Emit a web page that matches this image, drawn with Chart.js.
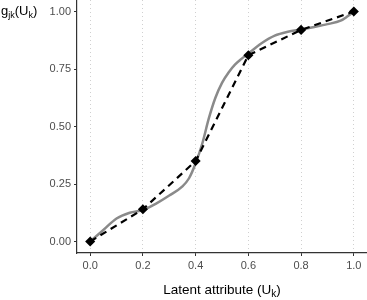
<!DOCTYPE html>
<html>
<head>
<meta charset="utf-8">
<script src="https://cdn.jsdelivr.net/npm/chart.js@4"></script>
<style>
  body { margin: 0; background: #fff; }
  canvas { display: block; }
</style>
</head>
<body>
<canvas id="plot" width="367" height="300"></canvas>
<script>
// anchor points (dashed line with diamonds)
const anchorU = [0.0, 0.2, 0.4, 0.6, 0.8, 1.0];
const anchorG = [0.00, 0.14, 0.35, 0.81, 0.92, 1.00];

// smooth grey curve
const curveU = [0, 0.05, 0.10, 0.15, 0.20, 0.25, 0.30, 0.35, 0.375, 0.40, 0.425, 0.45, 0.475, 0.50, 0.525, 0.55, 0.575, 0.60, 0.625, 0.65, 0.70, 0.75, 0.80, 0.85, 0.90, 0.95, 0.975, 1.0];
const curveG = [0.00, 0.05, 0.10, 0.125, 0.137, 0.165, 0.20, 0.24, 0.275, 0.34, 0.425, 0.535, 0.625, 0.69, 0.735, 0.77, 0.795, 0.818, 0.84, 0.862, 0.895, 0.912, 0.922, 0.933, 0.945, 0.96, 0.978, 1.00];

const xTicks = [0, 0.2, 0.4, 0.6, 0.8, 1.0];
const yTicks = [0, 0.25, 0.5, 0.75, 1.0];

const FONT = '"Liberation Sans", Arial, sans-serif';

// draws text where some parts are subscripts
function drawRich(ctx, parts, x, y, size, align) {
    const subSize = Math.round(size * 0.72);
    let total = 0;
    parts.forEach(([t, sub]) => {
        ctx.font = (sub ? subSize : size) + 'px ' + FONT;
        total += ctx.measureText(t).width;
    });
    let cx = align === 'center' ? x - total / 2 : x;
    ctx.textAlign = 'left';
    ctx.textBaseline = 'alphabetic';
    parts.forEach(([t, sub]) => {
        ctx.font = (sub ? subSize : size) + 'px ' + FONT;
        ctx.fillText(t, cx, sub ? y + 3 : y);
        cx += ctx.measureText(t).width;
    });
}

const titlesPlugin = {
    id: 'titles',
    afterDraw(chart) {
        const ctx = chart.ctx;
        ctx.save();
        ctx.fillStyle = '#000';
        drawRich(ctx, [['g', false], ['jk', true], ['(U', false], ['k', true], [')', false]], 1, 15, 13, 'left');
        const a = chart.chartArea;
        drawRich(ctx, [['Latent attribute (U', false], ['k', true], [')', false]], (a.left + a.right) / 2, 294, 13.5, 'center');
        ctx.restore();
    }
};

new Chart(document.getElementById('plot'), {
    type: 'line',
    data: {
        datasets: [
            {
                data: anchorU.map((u, i) => ({ x: u, y: anchorG[i] })),
                borderColor: '#000',
                borderWidth: 2.2,
                borderDash: [7, 5],
                pointStyle: 'rectRot',
                pointRadius: 3.5,
                pointBackgroundColor: '#000',
                pointBorderColor: '#000',
                tension: 0,
                order: 0
            },
            {
                data: curveU.map((u, i) => ({ x: u, y: curveG[i] })),
                borderColor: '#8a8a8a',
                borderWidth: 2.5,
                pointRadius: 0,
                cubicInterpolationMode: 'monotone',
                order: 1
            }
        ]
    },
    options: {
        responsive: false,
        animation: false,
        layout: { padding: 0, autoPadding: false },
        plugins: { legend: { display: false }, tooltip: { enabled: false } },
        scales: {
            x: {
                type: 'linear',
                min: -0.05,
                max: 1.05,
                afterBuildTicks: s => { s.ticks = xTicks.map(v => ({ value: v })); },
                afterFit: s => { s.height = 47; s.paddingLeft = 0; s.paddingRight = 0; },
                ticks: {
                    callback: v => v.toFixed(1),
                    color: '#4d4d4d',
                    font: { family: FONT, size: 11 },
                    padding: 3,
                    maxRotation: 0
                },
                grid: {
                    color: '#d0d0d0',
                    lineWidth: 1,
                    tickColor: '#333',
                    tickLength: 3,
                    tickBorderDash: []
                },
                border: { color: '#333', width: 1.2, dash: [1, 3] }
            },
            y: {
                type: 'linear',
                min: -0.05,
                max: 1.05,
                afterBuildTicks: s => { s.ticks = yTicks.map(v => ({ value: v })); },
                afterFit: s => { s.width = 77; s.paddingTop = 0; s.paddingBottom = 0; },
                ticks: {
                    callback: v => v.toFixed(2),
                    color: '#4d4d4d',
                    font: { family: FONT, size: 11 },
                    padding: 3
                },
                grid: {
                    drawOnChartArea: false,
                    tickColor: '#333',
                    tickLength: 3
                },
                border: { color: '#333', width: 1.2 }
            }
        }
    },
    plugins: [titlesPlugin]
});
</script>
</body>
</html>
